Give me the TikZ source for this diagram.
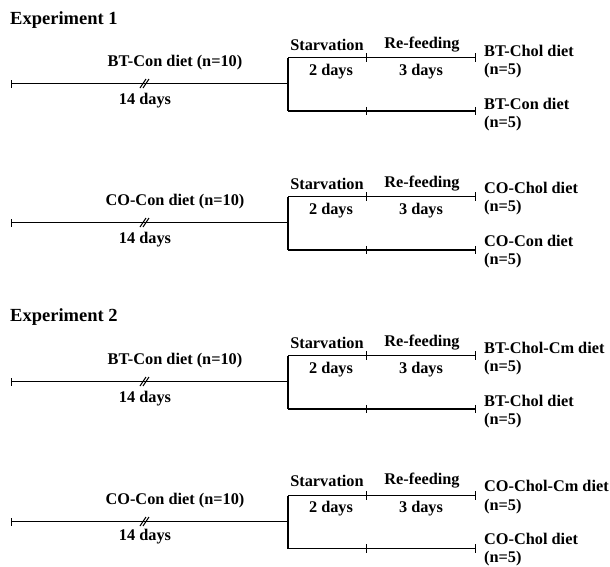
\documentclass[tikz,border=0pt]{standalone}
\usepackage{fontspec}
\setmainfont{Liberation Serif}
\usetikzlibrary{arrows.meta}
\newcommand\labfont{\fontsize{16.3}{18.5}\selectfont\bfseries}
\newcommand\ttlfont{\fontsize{18.5}{21}\selectfont\bfseries}
\begin{document}
\begin{tikzpicture}[
    x=1pt, y=-1pt,
    % Styles
    lab/.style={% For the labels on the lines
        font=\labfont,
        inner sep=0pt,
        },
    grp/.style={% For the groups at the right
        font=\labfont,
        anchor=west,
        align=left,
        inner sep=0pt,
        },
    ttl/.style={% For the experiment titles
        font=\ttlfont,
        anchor=west,
        inner sep=0pt,
        },
    LineA/.style={% Thin start of the time line
        line width=1pt,
        },
    LineB/.style={% Thick lines
        line width=1.4pt,
        },
    tick/.style={-{Bar[width=8.5pt,line width=1.3pt]}},
    ]
    \useasboundingbox (0,0) rectangle (610,566);

    % Titles
    \node [ttl] (exp1) at (10,20) {Experiment 1};
    \node [ttl] (exp2) at (10,317) {Experiment 2};

    %Block 1
    \begin{scope}[shift={(0,83.5)}]
    \coordinate (s1) at (11,0);
    \coordinate (k1) at (145,0);
    \coordinate (j1) at (288,0);
    \coordinate (ta1) at (288,-26);
    \coordinate (tb1) at (367,-26);
    \coordinate (tc1) at (476,-26);
    \coordinate (ba1) at (288,27.5);
    \coordinate (bb1) at (367,27.5);
    \coordinate (bc1) at (476,27.5);
    \node [lab] (diet1) at (175,-20.5) {BT-Con diet (n=10)};
    \node [lab] (days1) at (145,17.5) {14 days};
    \node [lab] (starv1) at (327,-38.5) {Starvation};
    \node [lab] (refed1) at (422,-38.5) {Re-feeding};
    \node [lab] (two1) at (331,-11.5) {2 days};
    \node [lab] (three1) at (421,-11.5) {3 days};
    \node [grp] (up1) at (484,-22) {BT-Chol diet\\(n=5)};
    \node [grp] (lo1) at (484,31) {BT-Con diet\\(n=5)};
    \end{scope}

    %Block 2
    \begin{scope}[shift={(0,222.5)}]
    \coordinate (s2) at (11,0);
    \coordinate (k2) at (145,0);
    \coordinate (j2) at (288,0);
    \coordinate (ta2) at (288,-26);
    \coordinate (tb2) at (367,-26);
    \coordinate (tc2) at (476,-26);
    \coordinate (ba2) at (288,27.5);
    \coordinate (bb2) at (367,27.5);
    \coordinate (bc2) at (476,27.5);
    \node [lab] (diet2) at (175,-20.5) {CO-Con diet (n=10)};
    \node [lab] (days2) at (145,17.5) {14 days};
    \node [lab] (starv2) at (327,-38.5) {Starvation};
    \node [lab] (refed2) at (422,-38.5) {Re-feeding};
    \node [lab] (two2) at (331,-11.5) {2 days};
    \node [lab] (three2) at (421,-11.5) {3 days};
    \node [grp] (up2) at (484,-24) {CO-Chol diet\\(n=5)};
    \node [grp] (lo2) at (484,29) {CO-Con diet\\(n=5)};
    \end{scope}

    %Block 3
    \begin{scope}[shift={(0,381.5)}]
    \coordinate (s3) at (11,0);
    \coordinate (k3) at (145,0);
    \coordinate (j3) at (288,0);
    \coordinate (ta3) at (288,-26);
    \coordinate (tb3) at (367,-26);
    \coordinate (tc3) at (476,-26);
    \coordinate (ba3) at (288,27.5);
    \coordinate (bb3) at (367,27.5);
    \coordinate (bc3) at (476,27.5);
    \node [lab] (diet3) at (175,-20.5) {BT-Con diet (n=10)};
    \node [lab] (days3) at (145,17.5) {14 days};
    \node [lab] (starv3) at (327,-38.5) {Starvation};
    \node [lab] (refed3) at (422,-38.5) {Re-feeding};
    \node [lab] (two3) at (331,-11.5) {2 days};
    \node [lab] (three3) at (421,-11.5) {3 days};
    \node [grp] (up3) at (484,-23) {BT-Chol-Cm diet\\(n=5)};
    \node [grp] (lo3) at (484,30) {BT-Chol diet\\(n=5)};
    \end{scope}

    %Block 4
    \begin{scope}[shift={(0,521.5)}]
    \coordinate (s4) at (11,0);
    \coordinate (k4) at (145,0);
    \coordinate (j4) at (288,0);
    \coordinate (ta4) at (288,-26);
    \coordinate (tb4) at (367,-26);
    \coordinate (tc4) at (476,-26);
    \coordinate (ba4) at (288,27);
    \coordinate (bb4) at (367,27);
    \coordinate (bc4) at (476,27);
    \node [lab] (diet4) at (175,-20.5) {CO-Con diet (n=10)};
    \node [lab] (days4) at (145,15.5) {14 days};
    \node [lab] (starv4) at (327,-40.5) {Starvation};
    \node [lab] (refed4) at (422,-40.5) {Re-feeding};
    \node [lab] (two4) at (331,-13) {2 days};
    \node [lab] (three4) at (421,-13) {3 days};
    \node [grp] (up4) at (484,-24.5) {CO-Chol-Cm diet\\(n=5)};
    \node [grp] (lo4) at (484,28) {CO-Chol diet\\(n=5)};
    \end{scope}

    % Draw the lines
    \foreach \i in {1,2,3,4}{
        \draw [LineA, {Bar[width=8pt,line width=1.3pt]}-] (s\i) -- (k\i);
        \draw [LineB] (k\i) -- (j\i);
        \draw [LineB] (ta\i) -- (ba\i);
        \draw [LineB, tick] (ta\i) -- (tb\i);
        \draw [LineB, tick] (tb\i) -- (tc\i);
        \draw [LineB, tick] (ba\i) -- (bb\i);
        \draw [LineB, tick] (bb\i) -- (bc\i);
        % double slash
        \draw [LineA] ([shift={(-5,4.5)}]k\i) -- ([shift={(1,-4.5)}]k\i);
        \draw [LineA] ([shift={(-2,4.5)}]k\i) -- ([shift={(4,-4.5)}]k\i);
    }

\end{tikzpicture}
\end{document}
